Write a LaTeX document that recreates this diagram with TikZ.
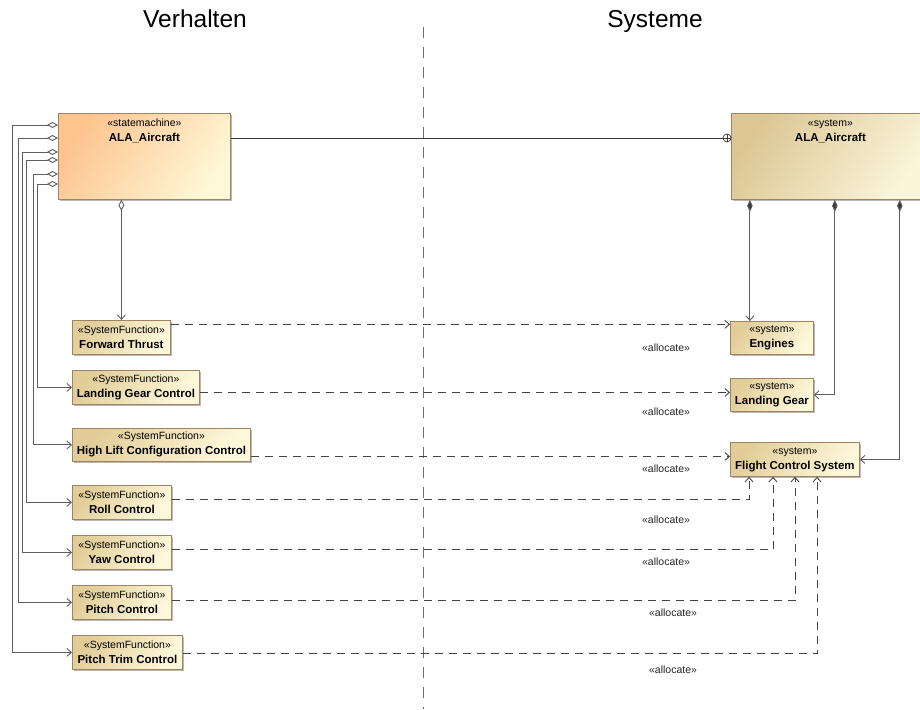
\documentclass[tikz,border=0pt]{standalone}
\usepackage{fontspec}
\setmainfont{Liberation Sans}
\usetikzlibrary{arrows.meta,shadows,calc}

% fills and strokes
\definecolor{smA}{HTML}{FDC48F}
\definecolor{smB}{HTML}{FFF7D6}
\definecolor{sysA}{HTML}{DCC794}
\definecolor{sysB}{HTML}{FBF5DA}
\definecolor{fnA}{HTML}{E2CD98}
\definecolor{fnB}{HTML}{FEF8DB}
\definecolor{boxBorder}{HTML}{A08462}
\definecolor{lineGray}{HTML}{5E5E5E}
\definecolor{lineDark}{HTML}{3A3A3A}
\definecolor{dashGray}{HTML}{444444}
\definecolor{divGray}{HTML}{6E6E6E}

\begin{document}
\begin{tikzpicture}[x=1pt,y=-1pt,
  box/.style={draw=boxBorder, line width=0.8pt, inner sep=0pt, anchor=north west,
    general shadow={fill=black!28, shadow xshift=2pt, shadow yshift=-2pt}},
  smbox/.style={box, top color=smA, bottom color=smB, shading angle=55},
  sysbox/.style={box, top color=sysA, bottom color=sysB, shading angle=55},
  fnbox/.style={box, top color=fnA, bottom color=fnB, shading angle=55,
    align=center, font=\fontsize{10.5}{15}\selectfont},
  stereo/.style={font=\fontsize{10.5}{13}\selectfont, anchor=base, inner sep=0pt},
  bname/.style={font=\fontsize{11.5}{13}\selectfont\bfseries, anchor=base, inner sep=0pt},
  title/.style={font=\fontsize{24.5}{29}\selectfont, anchor=base, inner sep=0pt},
  alloclabel/.style={font=\fontsize{10.5}{13}\selectfont, text=black!85, inner sep=0pt},
  agg/.style={draw=lineGray, line width=0.9pt,
    {Diamond[open,length=11pt,width=6pt]}-{Straight Barb[length=4.5pt,width=8pt]}},
  comp/.style={draw=lineGray, line width=0.9pt,
    {Diamond[length=12pt,width=5.5pt,fill=lineDark]}-{Straight Barb[length=4.5pt,width=8pt]}},
  alloc/.style={draw=dashGray, line width=0.9pt, dash pattern=on 8pt off 6pt,
    -{Straight Barb[length=4.5pt,width=8pt]}},
  divider/.style={draw=divGray, line width=1pt, dash pattern=on 11pt off 9pt}
]
\useasboundingbox (0,0) rectangle (920,709);

% column headings and separator
\node[title] (hbeh) at (195,28) {Verhalten};
\node[title] (hsys) at (655,28) {Systeme};
\draw[divider] (423,27) -- (423,709);

% state machine and system blocks
\node[smbox, minimum width=172pt, minimum height=86pt] (sm) at (58,113) {};
\node[stereo] (smst) at ([yshift=-13pt]sm.north) {«statemachine»};
\node[bname] (smnm) at ([yshift=-28pt]sm.north) {ALA\_Aircraft};

\node[sysbox, minimum width=198pt, minimum height=86pt] (sys) at (731,113) {};
\node[stereo] (sysst) at ([yshift=-13pt]sys.north) {«system»};
\node[bname] (sysnm) at ([yshift=-28pt]sys.north) {ALA\_Aircraft};

% system functions
\newcommand{\fn}[1]{«SystemFunction»\\{\fontsize{11.5}{15}\selectfont\bfseries #1}}
\newcommand{\sysn}[1]{«system»\\{\fontsize{11.5}{15}\selectfont\bfseries #1}}
\node[fnbox, minimum width=98pt,  minimum height=34pt] (ft)    at (72,320) {\fn{Forward Thrust}};
\node[fnbox, minimum width=127pt, minimum height=34pt] (lgc)   at (72,370) {\fn{Landing Gear Control}};
\node[fnbox, minimum width=178pt, minimum height=33pt] (hl)    at (72,428) {\fn{High Lift Configuration Control}};
\node[fnbox, minimum width=99pt,  minimum height=34pt] (roll)  at (72,485) {\fn{Roll Control}};
\node[fnbox, minimum width=99pt,  minimum height=34pt] (yaw)   at (72,535) {\fn{Yaw Control}};
\node[fnbox, minimum width=99pt,  minimum height=34pt] (pitch) at (72,585) {\fn{Pitch Control}};
\node[fnbox, minimum width=110pt, minimum height=34pt] (ptrim) at (72,635) {\fn{Pitch Trim Control}};

% subsystems
\node[fnbox, minimum width=83pt,  minimum height=33pt] (eng) at (730,321) {\sysn{Engines}};
\node[fnbox, minimum width=83pt,  minimum height=33pt] (lg)  at (730,378) {\sysn{Landing Gear}};
\node[fnbox, minimum width=129pt, minimum height=34pt] (fcs) at (730,442) {\sysn{Flight Control System}};

% ownership link between behaviour and system
\node[circle, draw=lineDark, line width=0.7pt, minimum size=8pt, inner sep=0pt, fill=white,
  path picture={\draw[lineDark, line width=0.6pt]
    (path picture bounding box.north) -- (path picture bounding box.south)
    (path picture bounding box.west) -- (path picture bounding box.east);}] (own) at (727,138) {};
\draw[draw=lineDark, line width=0.9pt] (sm.east |- own) -- (own.west);

% state machine owns the functions
\draw[agg] (ft.north |- sm.south) -- (ft.north);
\draw[agg] ([yshift=-71pt]sm.north west) -- ++(-21,0) |- (lgc.west);
\draw[agg] ([yshift=-61pt]sm.north west) -- ++(-25,0) |- (hl.west);
\draw[agg] ([yshift=-47pt]sm.north west) -- ++(-32,0) |- (roll.west);
\draw[agg] ([yshift=-39pt]sm.north west) -- ++(-36,0) |- (yaw.west);
\draw[agg] ([yshift=-25pt]sm.north west) -- ++(-40,0) |- (pitch.west);
\draw[agg] ([yshift=-12pt]sm.north west) -- ++(-46,0) |- (ptrim.west);

% system composition
\draw[comp] ([xshift=-22pt]eng.north |- sys.south) -- ([xshift=-22pt]eng.north);
\draw[comp] ([xshift=-95pt]sys.south east) |- (lg.east);
\draw[comp] ([xshift=-30pt]sys.south east) |- (fcs.east);

% allocations
\draw[alloc] ([yshift=13pt]ft.east) -- ([yshift=13pt]ft.east -| eng.west);
\draw[alloc] ([yshift=-5pt]lgc.east) -- ([yshift=-5pt]lgc.east -| lg.west);
\draw[alloc] ([yshift=-11.5pt]hl.east) -- ([yshift=-11.5pt]hl.east -| fcs.west);
\draw[alloc] ([yshift=3pt]roll.east) -| ([xshift=19pt]fcs.south west);
\draw[alloc] ([yshift=3pt]yaw.east) -| ([xshift=43pt]fcs.south west);
\draw[alloc] ([yshift=2pt]pitch.east) -| ([xshift=65pt]fcs.south west);
\draw[alloc] ([yshift=-1pt]ptrim.east) -| ([xshift=87pt]fcs.south west);

\node[alloclabel] (a1) at (666,348) {«allocate»};
\node[alloclabel] (a2) at (666,412) {«allocate»};
\node[alloclabel] (a3) at (666,469) {«allocate»};
\node[alloclabel] (a4) at (666,520) {«allocate»};
\node[alloclabel] (a5) at (666,562) {«allocate»};
\node[alloclabel] (a6) at (673,613) {«allocate»};
\node[alloclabel] (a7) at (673,670) {«allocate»};
\end{tikzpicture}
\end{document}
